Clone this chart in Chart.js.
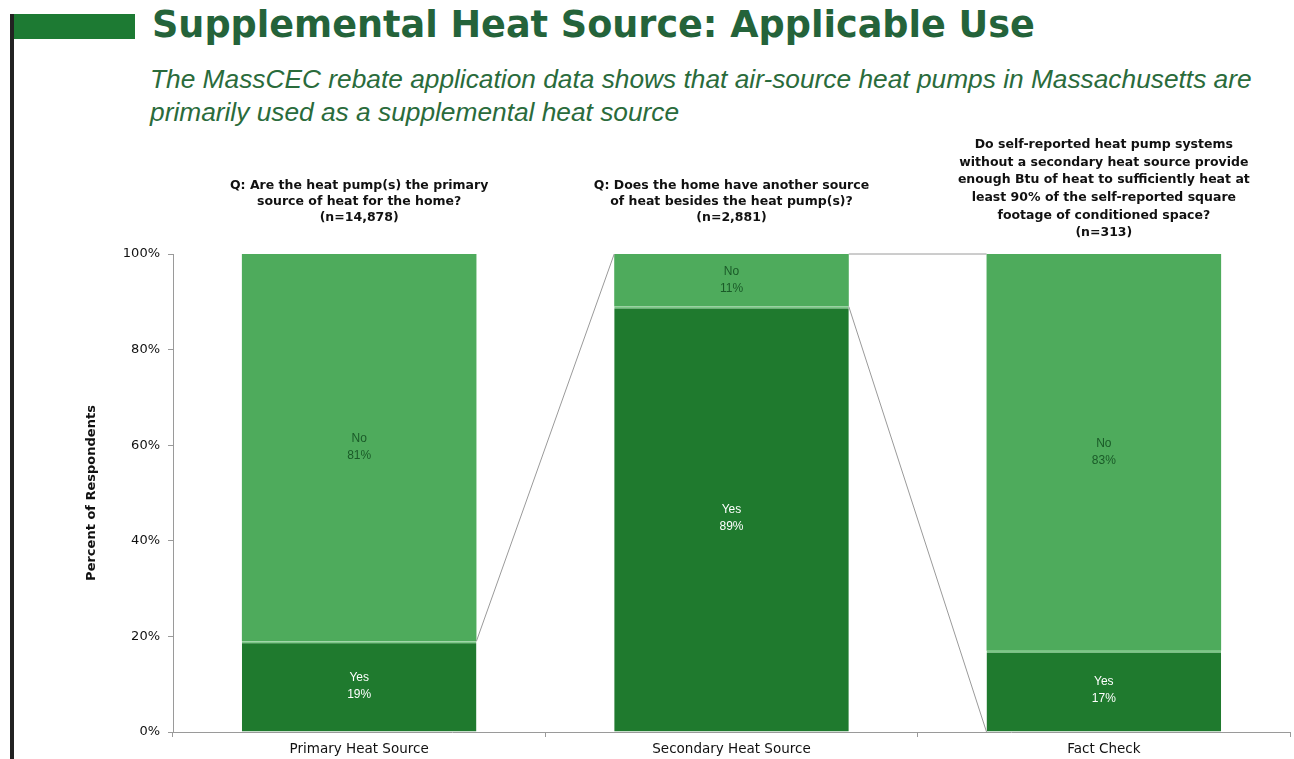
<!DOCTYPE html>
<html>
<head>
<meta charset="utf-8">
<script src="https://cdn.jsdelivr.net/npm/chart.js@4.4.1/dist/chart.umd.min.js"></script>
<style>
  html, body { margin: 0; padding: 0; background: #fff; }
  body { width: 1294px; height: 759px; position: relative; overflow: hidden; font-family: "Liberation Sans", Arial, sans-serif; }
  #rule { position: absolute; left: 10px; top: 14px; width: 4px; height: 760px; background: #222; }
  #flag { position: absolute; left: 14px; top: 14px; width: 121px; height: 25px; background: #1d7a33; }
  #titulo { position: absolute; left: 152px; top: 3px; font-family: "DejaVu Sans", sans-serif; font-size: 36.6px; font-weight: bold; color: #24633a; white-space: nowrap; }
  #bajada { position: absolute; left: 150px; top: 63px; font-size: 26.3px; font-style: italic; color: #2a6b3b; line-height: 33px; white-space: nowrap; }
  #wrap { position: absolute; left: 0; top: 0; width: 1294px; height: 759px; }
</style>
</head>
<body>
<div id="rule"></div>
<div id="flag"></div>
<div id="titulo">Supplemental Heat Source: Applicable Use</div>
<div id="bajada">The MassCEC rebate application data shows that air-source heat pumps in Massachusetts are<br>primarily used as a supplemental heat source</div>
<div id="wrap"><canvas id="grafico"></canvas></div>

<script>
const categorias = ['Primary Heat Source', 'Secondary Heat Source', 'Fact Check']
const valoresYes = [19, 89, 17]
const valoresNo = [81, 11, 83]
const preguntas = [
    ['Q: Are the heat pump(s) the primary', 'source of heat for the home?', '(n=14,878)'],
    ['Q: Does the home have another source', 'of heat besides the heat pump(s)?', '(n=2,881)'],
    ['Do self-reported heat pump systems', 'without a secondary heat source provide', 'enough Btu of heat to sufficiently heat at', 'least 90% of the self-reported square', 'footage of conditioned space?', '(n=313)']
]
const ticksY = [0, 20, 40, 60, 80, 100]

const verdeOscuro = '#1f7a2e'
const verdeClaro = '#4eab5c'
const fuente = '"Liberation Sans", Arial, sans-serif'
const fuenteAncha = '"DejaVu Sans", sans-serif'

// preguntas sobre cada barra, etiquetas dentro de los segmentos y lineas de conexion
const extras = {
    id: 'extras',
    afterDatasetsDraw(chart) {
        const ctx = chart.ctx
        const x = chart.scales.x
        const y = chart.scales.y
        const yes = chart.getDatasetMeta(0).data
        const no = chart.getDatasetMeta(1).data

        // lineas que unen las barras
        ctx.save()
        ctx.strokeStyle = '#9a9a9a'
        ctx.lineWidth = 1
        const der = b => b.x + b.width / 2
        const izq = b => b.x - b.width / 2
        const lineas = [
            [der(yes[0]), yes[0].y, izq(no[1]), no[1].y],
            [der(no[1]), no[1].y, izq(no[2]), no[2].y],
            [der(yes[1]), yes[1].y, izq(yes[2]), y.getPixelForValue(0)]
        ]
        lineas.forEach(l => {
            ctx.beginPath()
            ctx.moveTo(l[0], l[1])
            ctx.lineTo(l[2], l[3])
            ctx.stroke()
        })

        // etiquetas de cada segmento
        ctx.textAlign = 'center'
        ctx.textBaseline = 'middle'
        ctx.font = '12px ' + fuente
        yes.forEach((b, i) => {
            const cy = (b.y + b.base) / 2
            ctx.fillStyle = '#ffffff'
            ctx.fillText('Yes', b.x, cy - 9)
            ctx.fillText(valoresYes[i] + '%', b.x, cy + 8)
        })
        no.forEach((b, i) => {
            const cy = (b.y + b.base) / 2
            ctx.fillStyle = '#1a5a28'
            ctx.fillText('No', b.x, cy - 9)
            ctx.fillText(valoresNo[i] + '%', b.x, cy + 8)
        })

        // preguntas
        ctx.fillStyle = '#111'
        ctx.font = 'bold 12.5px ' + fuenteAncha
        preguntas.forEach((lineasTexto, i) => {
            const cx = x.getPixelForValue(i)
            const paso = lineasTexto.length > 3 ? 17.6 : 16
            const inicio = lineasTexto.length > 3 ? 145 : 186
            lineasTexto.forEach((t, j) => ctx.fillText(t, cx, inicio + j * paso))
        })

        // titulo del eje y
        ctx.save()
        ctx.translate(92, (y.top + y.bottom) / 2)
        ctx.rotate(-Math.PI / 2)
        ctx.font = 'bold 13px ' + fuenteAncha
        ctx.fillText('Percent of Respondents', 0, 0)
        ctx.restore()
        ctx.restore()
    }
}

const config = {
    type: 'bar',
    data: {
        labels: categorias,
        datasets: [
            {
                label: 'Yes',
                data: valoresYes,
                backgroundColor: verdeOscuro,
                borderColor: '#7cc887',
                borderWidth: { top: 2, left: 0, right: 0, bottom: 0 },
                borderSkipped: false,
                categoryPercentage: 1,
                barPercentage: 0.63
            },
            {
                label: 'No',
                data: valoresNo,
                backgroundColor: verdeClaro,
                borderWidth: 0,
                categoryPercentage: 1,
                barPercentage: 0.63
            }
        ]
    },
    options: {
        responsive: false,
        animation: false,
        layout: { padding: { top: 254, right: 4, left: 0, bottom: 0 } },
        plugins: {
            legend: { display: false },
            tooltip: { enabled: false }
        },
        scales: {
            x: {
                stacked: true,
                afterFit: s => { s.height = 27 },
                grid: { drawOnChartArea: false, offset: true, tickLength: 5, color: '#9a9a9a' },
                border: { color: '#9a9a9a' },
                ticks: { color: '#111', padding: 4, font: { size: 13.5, family: fuenteAncha } }
            },
            y: {
                stacked: true,
                min: 0,
                max: 100,
                afterFit: s => { s.width = 173 },
                afterBuildTicks: s => { s.ticks = ticksY.map(v => ({ value: v })) },
                grid: { drawOnChartArea: false, tickLength: 5, color: '#9a9a9a' },
                border: { color: '#9a9a9a' },
                ticks: {
                    color: '#111',
                    padding: 8,
                    font: { size: 13, family: fuenteAncha },
                    callback: v => v + '%'
                }
            }
        }
    },
    plugins: [extras]
}

const lienzo = document.getElementById('grafico')
lienzo.width = 1294
lienzo.height = 759
new Chart(lienzo, config)
</script>
</body>
</html>
